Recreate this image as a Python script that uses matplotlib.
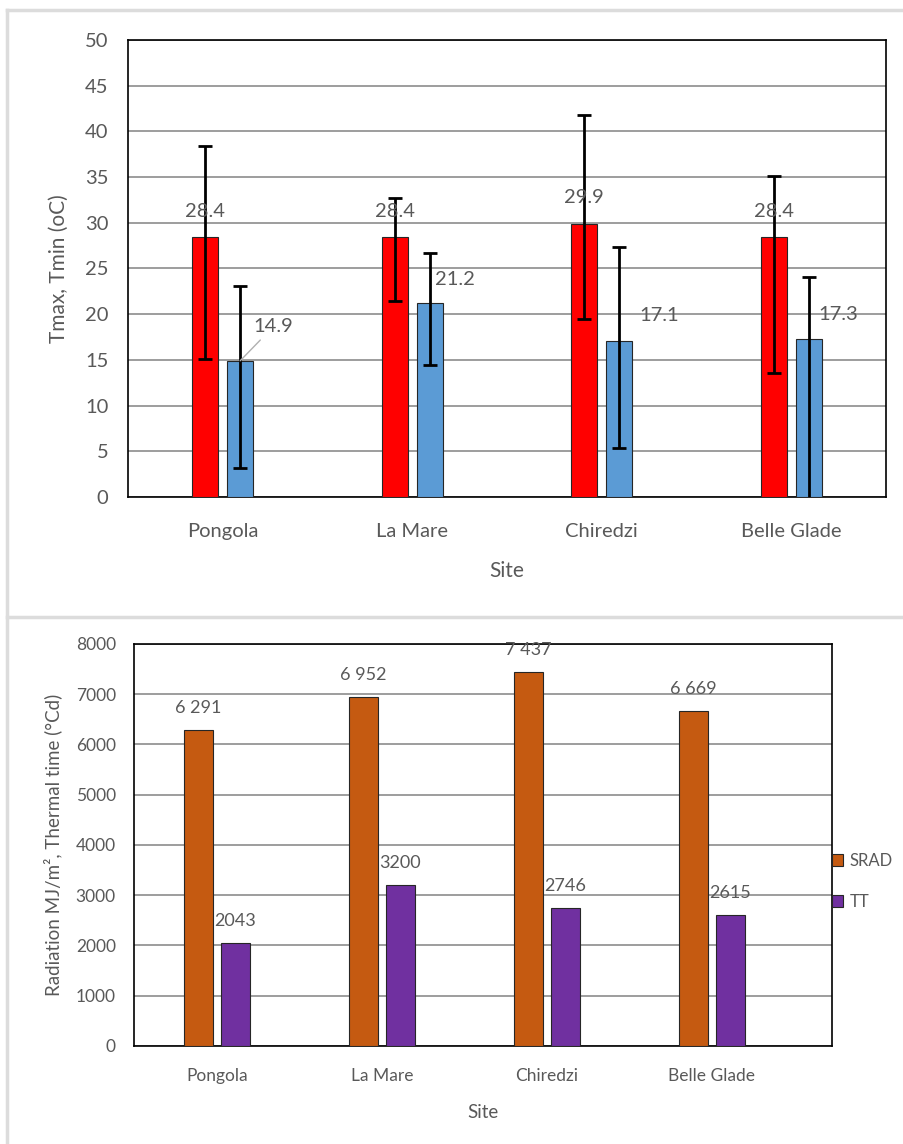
import matplotlib.pyplot as plt
import numpy as np
from matplotlib.lines import Line2D

plt.rcParams['font.family'] = ['Lato', 'DejaVu Sans']

# --- data ---
sites = ['Pongola', 'La Mare', 'Chiredzi', 'Belle Glade']
tmax = [28.4, 28.4, 29.9, 28.4]
tmin = [14.9, 21.2, 17.1, 17.3]
tmax_err_low = [13.3, 7.0, 10.4, 14.8]
tmax_err_high = [10.0, 4.3, 11.9, 6.7]
tmin_err_low = [11.7, 6.8, 11.7, 18.0]
tmin_err_high = [8.2, 5.5, 10.2, 6.8]

srad = [6291, 6952, 7437, 6669]
tt = [2043, 3200, 2746, 2615]
srad_labels = ['6 291', '6 952', '7 437', '6 669']
tt_labels = ['2043', '3200', '2746', '2615']

txt = '#595959'
grid = '#8c8c8c'

fig = plt.figure(figsize=(9.04, 11.44), dpi=100)

# page frame lines
for xy in [([0.0077, 1.0], [0.991, 0.991]), ([0.0077, 0.0077], [0.0, 0.991]),
           ([0.0077, 1.0], [0.461, 0.461])]:
    fig.add_artist(Line2D(xy[0], xy[1], color='#dcdcdc', lw=2.5))

# ---------- top panel ----------
ax1 = fig.add_axes([0.1416, 0.5656, 0.8385, 0.3995])
x = np.arange(len(sites))
w = 0.137
off = 0.092
ax1.bar(x - off, tmax, w, color='#ff0000', edgecolor='#262626', lw=0.8, zorder=3)
ax1.bar(x + off, tmin, w, color='#5b9bd5', edgecolor='#262626', lw=0.8, zorder=3)
ax1.errorbar(x - off, tmax, yerr=[tmax_err_low, tmax_err_high], fmt='none',
             ecolor='black', elinewidth=2, capsize=5, capthick=2, zorder=4)
ax1.errorbar(x + off, tmin, yerr=[tmin_err_low, tmin_err_high], fmt='none',
             ecolor='black', elinewidth=2, capsize=5, capthick=2, zorder=4)

for i, v in enumerate(tmax):
    ax1.annotate(f'{v}', (x[i] - off, v), xytext=(0, 26), textcoords='offset pixels',
                 ha='center', va='center', fontsize=14.5, color=txt, zorder=5)
tmin_offsets = [(33, 34), (25, 24), (40, 25), (30, 24)]
for i, v in enumerate(tmin):
    arrow = dict(arrowstyle='-', color='#b0b0b0', lw=1, shrinkA=2, shrinkB=0) if i == 0 else None
    ax1.annotate(f'{v}', (x[i] + off, v), xytext=tmin_offsets[i], textcoords='offset pixels',
                 ha='center', va='center', fontsize=14.5, color=txt, zorder=5,
                 arrowprops=arrow)

ax1.set_xlim(-0.5, 3.5)
ax1.set_ylim(0, 50)
ax1.set_yticks(range(0, 51, 5))
ax1.set_xticks(x)
ax1.set_xticklabels(sites)
ax1.yaxis.grid(True, color=grid, lw=1.2, zorder=0)
ax1.set_axisbelow(True)
ax1.tick_params(length=0, labelsize=14.5, labelcolor=txt)
ax1.tick_params(axis='y', pad=14)
ax1.tick_params(axis='x', pad=19)
for s in ax1.spines.values():
    s.set_color('black')
    s.set_linewidth(1.2)
ax1.set_ylabel('Tmax, Tmin (oC)', fontsize=15, color=txt, labelpad=12)
ax1.set_xlabel('Site', fontsize=15, color=txt, labelpad=15)

# ---------- bottom panel ----------
ax2 = fig.add_axes([0.1482, 0.0857, 0.7721, 0.3514])
w2 = 0.18
off2 = 0.112
ax2.bar(x - off2, srad, w2, color='#c55a11', edgecolor='#262626', lw=0.8, zorder=3, label='SRAD')
ax2.bar(x + off2, tt, w2, color='#7030a0', edgecolor='#262626', lw=0.8, zorder=3, label='TT')
for i in range(len(sites)):
    ax2.annotate(srad_labels[i], (x[i] - off2, srad[i]), xytext=(0, 22), textcoords='offset pixels',
                 ha='center', va='center', fontsize=13, color=txt)
    ax2.annotate(tt_labels[i], (x[i] + off2, tt[i]), xytext=(0, 22), textcoords='offset pixels',
                 ha='center', va='center', fontsize=13, color=txt)

ax2.set_xlim(-0.503, 3.727)
ax2.set_ylim(0, 8000)
ax2.set_yticks(range(0, 8001, 1000))
ax2.set_xticks(x)
ax2.set_xticklabels(sites)
ax2.yaxis.grid(True, color=grid, lw=1.2, zorder=0)
ax2.set_axisbelow(True)
ax2.tick_params(length=0, labelsize=12.5, labelcolor=txt)
ax2.tick_params(axis='y', pad=13)
ax2.tick_params(axis='x', pad=16)
for s in ax2.spines.values():
    s.set_color('black')
    s.set_linewidth(1.2)
ax2.set_ylabel('Radiation MJ/m², Thermal time (°Cd)', fontsize=13.5, color=txt, labelpad=10)
ax2.set_xlabel('Site', fontsize=13.5, color=txt, labelpad=14)

leg = ax2.legend(loc='center left', bbox_to_anchor=(0.995, 0.41), frameon=False,
                 fontsize=12, handlelength=0.7, handleheight=0.7, handletextpad=0.35,
                 labelspacing=1.5, labelcolor=txt, borderpad=0.2, borderaxespad=0)

fig.savefig('out.png', dpi=100)
